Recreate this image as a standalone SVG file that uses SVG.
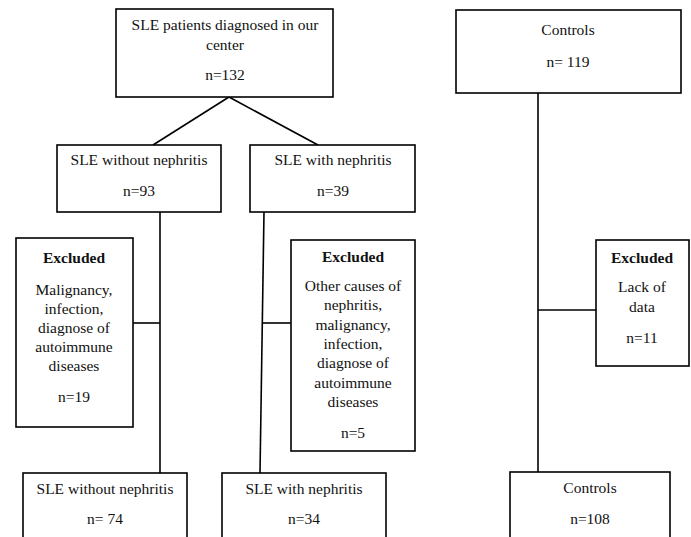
<svg xmlns="http://www.w3.org/2000/svg" width="691" height="537" viewBox="0 0 691 537">
<style>
.box{fill:#fff;stroke:#000;stroke-width:1.6}
.ln{stroke:#000;stroke-width:1.6;fill:none}
text{font-size:15.5px;fill:#111;text-anchor:middle}
.b{font-weight:bold}
</style>
<rect width="691" height="537" fill="#fff"/>
<g id="connectors">
<line class="ln" x1="229" y1="97" x2="153" y2="145"/>
<line class="ln" x1="229" y1="97" x2="318" y2="145"/>
<line class="ln" x1="160" y1="212" x2="160" y2="473"/>
<line class="ln" x1="133" y1="323" x2="160" y2="323"/>
<line class="ln" x1="264" y1="212" x2="260" y2="473"/>
<line class="ln" x1="263" y1="323" x2="291" y2="323"/>
<line class="ln" x1="538" y1="93" x2="538" y2="472"/>
<line class="ln" x1="538" y1="310" x2="596" y2="310"/>
</g>
<g font-family="Liberation Serif, Times New Roman, serif">
<g id="sle-all">
<rect class="box" x="116" y="9" width="217" height="88"/>
<text x="225" y="30">SLE patients diagnosed in our</text>
<text x="225" y="50">center</text>
<text x="225" y="80">n=132</text>
</g>
<g id="sle-without">
<rect class="box" x="57" y="145" width="164" height="67"/>
<text x="139" y="165">SLE without nephritis</text>
<text x="139" y="196">n=93</text>
</g>
<g id="sle-with">
<rect class="box" x="250" y="145" width="165" height="67"/>
<text x="333" y="165">SLE with nephritis</text>
<text x="333" y="196">n=39</text>
</g>
<g id="controls">
<rect class="box" x="456" y="10" width="225" height="83"/>
<text x="568" y="35">Controls</text>
<text x="568" y="67">n= 119</text>
</g>
<g id="excluded-1">
<rect class="box" x="16" y="238" width="117" height="189"/>
<text class="b" x="74" y="263">Excluded</text>
<text x="74" y="295">Malignancy,</text>
<text x="74" y="314">infection,</text>
<text x="74" y="333">diagnose of</text>
<text x="74" y="352">autoimmune</text>
<text x="74" y="371">diseases</text>
<text x="74" y="402">n=19</text>
</g>
<g id="excluded-2">
<rect class="box" x="291" y="240" width="124" height="211"/>
<text class="b" x="353" y="262">Excluded</text>
<text x="353" y="291">Other causes of</text>
<text x="353" y="310">nephritis,</text>
<text x="353" y="330">malignancy,</text>
<text x="353" y="349">infection,</text>
<text x="353" y="368">diagnose of</text>
<text x="353" y="388">autoimmune</text>
<text x="353" y="407">diseases</text>
<text x="353" y="438">n=5</text>
</g>
<g id="excluded-3">
<rect class="box" x="596" y="240" width="93" height="126"/>
<text class="b" x="642" y="263">Excluded</text>
<text x="642" y="292">Lack of</text>
<text x="642" y="312">data</text>
<text x="642" y="343">n=11</text>
</g>
<g id="sle-without-final">
<rect class="box" x="23" y="473" width="164" height="75"/>
<text x="105" y="494">SLE without nephritis</text>
<text x="105" y="524">n= 74</text>
</g>
<g id="sle-with-final">
<rect class="box" x="222" y="473" width="164" height="75"/>
<text x="304" y="494">SLE with nephritis</text>
<text x="304" y="524">n=34</text>
</g>
<g id="controls-final">
<rect class="box" x="510" y="472" width="160" height="76"/>
<text x="590" y="493">Controls</text>
<text x="590" y="524">n=108</text>
</g>
</g>
</svg>
